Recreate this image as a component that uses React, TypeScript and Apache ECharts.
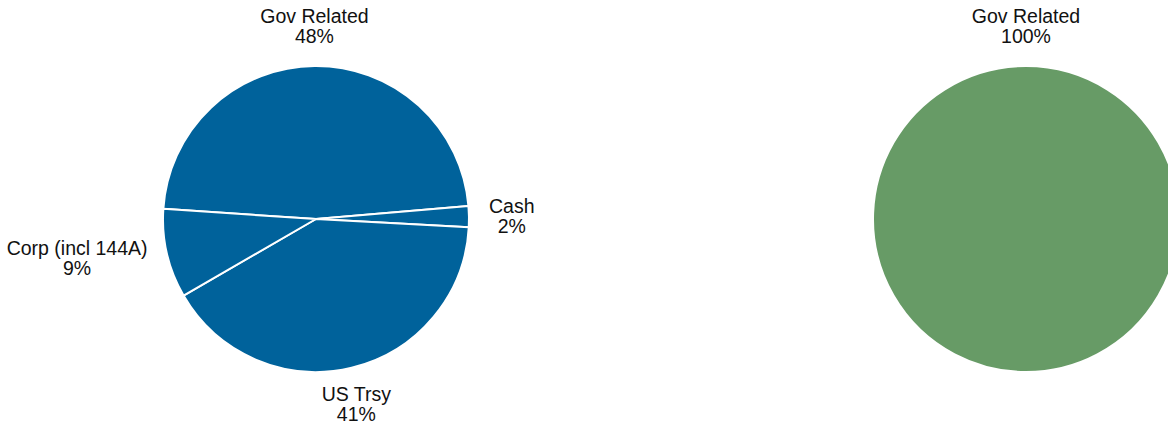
import React, { useEffect, useRef } from "react";
import * as echarts from "echarts";

// ---- data ----
const leftCategories: string[] = ["Gov Related", "Cash", "US Trsy", "Corp (incl 144A)"];
const leftValues: number[] = [47.6, 2.2, 40.8, 9.4];
const rightCategories: string[] = ["Gov Related"];
const rightValues: number[] = [100];

// ---- layout / style ----
const WIDTH = 1168;
const HEIGHT = 425;
const LEFT_START = 176.2;
const RIGHT_START = 270;
const RADIUS = 153;
const LABEL_GAP = 20;
const LEFT_CENTER: [number, number] = [316, 219];
const RIGHT_CENTER: [number, number] = [1026, 219];
const BLUE = "#00629b";
const GREEN = "#679b66";

function midAngle(values: number[], start: number, i: number): number {
  const total = values.reduce((a, b) => a + b, 0);
  let before = 0;
  for (let k = 0; k < i; k++) before += values[k];
  return start - ((before + values[i] / 2) / total) * 360;
}

function makeLabelLayout(values: number[], start: number, center: [number, number]) {
  return (params: any) => {
    const a = (midAngle(values, start, params.dataIndex) * Math.PI) / 180;
    const ux = Math.cos(a);
    const uy = -Math.sin(a);
    const ax = center[0] + (RADIUS + LABEL_GAP) * ux;
    const ay = center[1] + (RADIUS + LABEL_GAP) * uy;
    const w = params.labelRect.width;
    const h = params.labelRect.height;
    let x: number;
    let y: number;
    if (Math.abs(uy) > Math.abs(ux)) {
      x = ax;
      y = ay + Math.sign(uy) * (h / 2);
    } else {
      x = ax + Math.sign(ux) * (w / 2);
      y = ay;
    }
    // keep the label box inside the chart
    y = Math.min(Math.max(y, h / 2 + 1), HEIGHT - h / 2 - 1);
    x = Math.min(Math.max(x, w / 2 + 1), WIDTH - w / 2 - 1);
    return { x, y, align: "center", verticalAlign: "middle" };
  };
}

function pieSeries(
  cats: string[],
  vals: number[],
  start: number,
  center: [number, number],
  color: string
) {
  return {
    type: "pie",
    center,
    radius: RADIUS,
    startAngle: start,
    clockwise: true,
    avoidLabelOverlap: false,
    silent: true,
    percentPrecision: 0,
    data: cats.map((c, i) => ({ name: c, value: vals[i] })),
    itemStyle: { color, borderColor: "#ffffff", borderWidth: 2 },
    label: {
      show: true,
      position: "outside",
      formatter: "{b}\n{d}%",
      fontFamily: "Arial, 'Liberation Sans', sans-serif",
      fontSize: 19.5,
      lineHeight: 20,
      color: "#111111",
      align: "center",
    },
    labelLine: { show: false },
    labelLayout: makeLabelLayout(vals, start, center),
    emphasis: { disabled: true },
  };
}

export default function App() {
  const ref = useRef<HTMLDivElement>(null);
  useEffect(() => {
    if (!ref.current) return;
    const chart = echarts.init(ref.current, null, { renderer: "svg" });
    chart.setOption({
      animation: false,
      backgroundColor: "#ffffff",
      series: [
        pieSeries(leftCategories, leftValues, LEFT_START, LEFT_CENTER, BLUE),
        pieSeries(rightCategories, rightValues, RIGHT_START, RIGHT_CENTER, GREEN),
      ],
    });
    return () => chart.dispose();
  }, []);
  return (
    <div
      ref={ref}
      style={{ position: "fixed", left: 0, top: 0, width: WIDTH, height: HEIGHT }}
    />
  );
}
